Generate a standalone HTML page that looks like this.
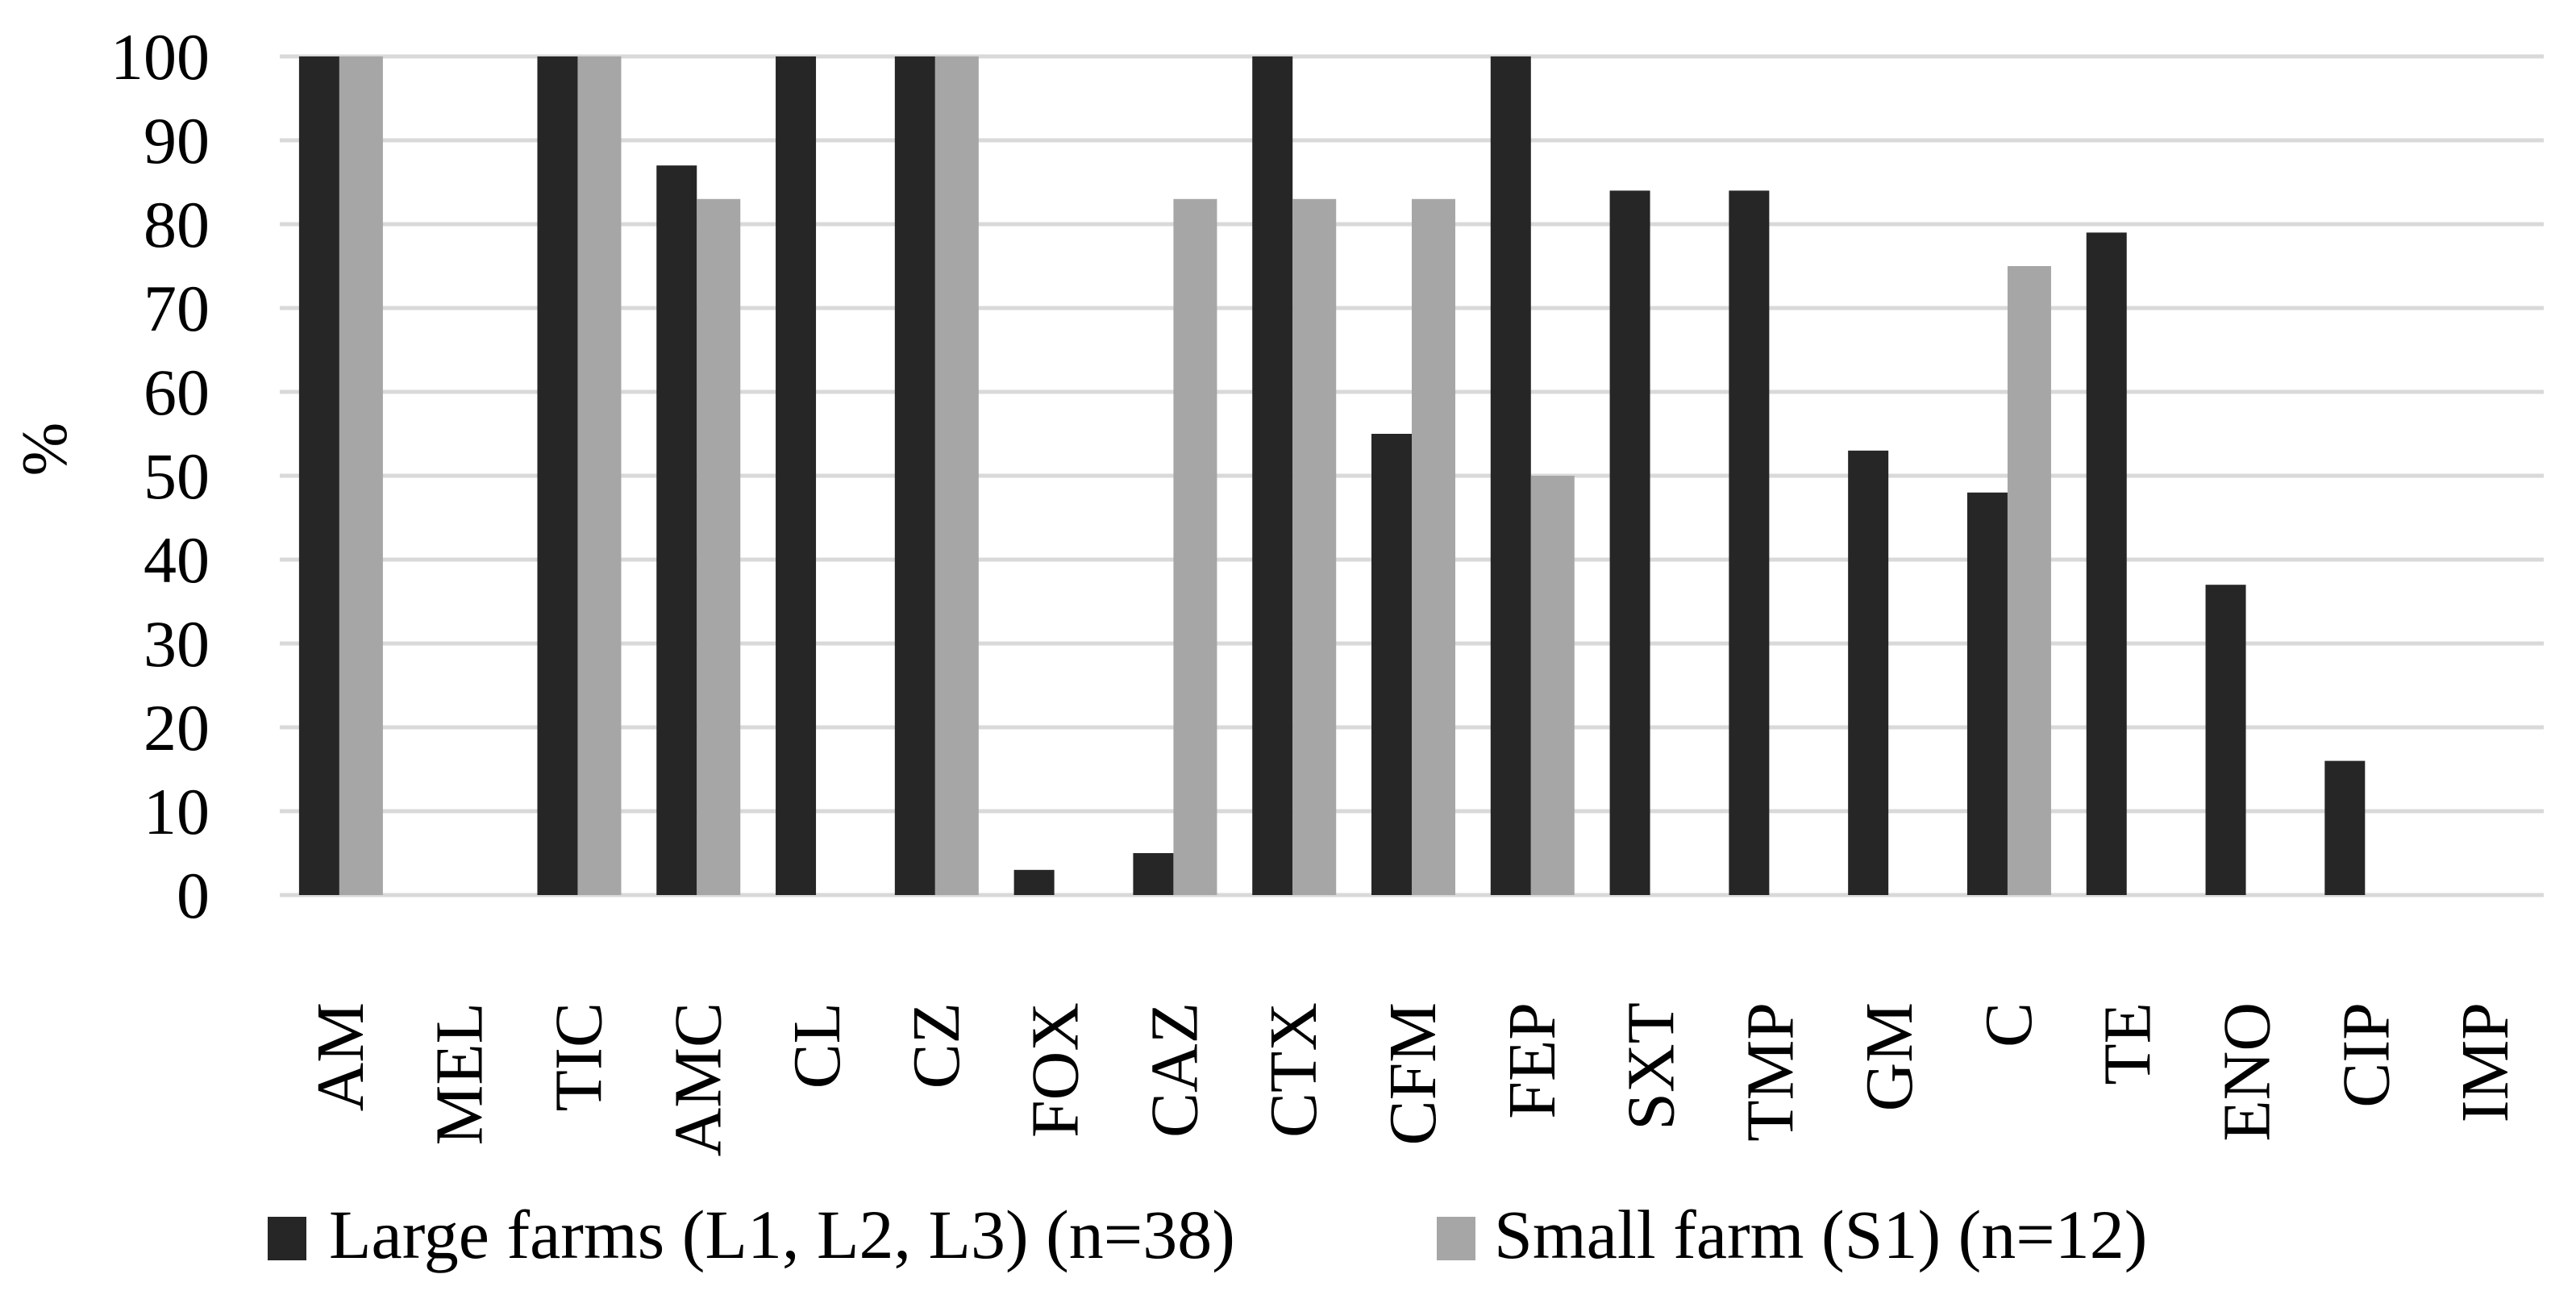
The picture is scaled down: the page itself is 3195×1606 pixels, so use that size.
<!DOCTYPE html>
<html><head><meta charset="utf-8"><style>
html,body{margin:0;padding:0;background:#fff;}
svg{display:block;font-family:"Liberation Serif",serif;}
</style></head><body>
<svg id="chart" width="3195" height="1606" viewBox="0 0 3195 1606" xmlns="http://www.w3.org/2000/svg">
<g id="grid"></g>
<g id="bars"></g>
<g id="yticks"></g>
<g id="xticks"></g>
<text x="0" y="0" font-size="80" text-anchor="middle" transform="translate(82,557) rotate(-90)">%</text>
<g>
  <rect x="332" y="1509" width="48" height="54" fill="#262626"/>
  <text x="408" y="1560" font-size="86">Large farms (L1, L2, L3) (n=38)</text>
  <rect x="1782" y="1509" width="48" height="54" fill="#a6a6a6"/>
  <text x="1853" y="1560" font-size="86">Small farm (S1) (n=12)</text>
</g>
</svg>
<script>
const categories = ["AM","MEL","TIC","AMC","CL","CZ","FOX","CAZ","CTX","CFM","FEP","SXT","TMP","GM","C","TE","ENO","CIP","IMP"];
const largeValues = [100,0,100,87,100,100,3,5,100,55,100,84,84,53,48,79,37,16,0];
const smallValues = [100,0,100,83,0,100,0,83,83,83,50,0,0,0,75,0,0,0,0];
const yTicks = [0,10,20,30,40,50,60,70,80,90,100];

const NS = "http://www.w3.org/2000/svg";
const plotLeft = 347, plotRight = 3155, plotTop = 70, plotBottom = 1110;
const bw = (plotRight - plotLeft) / categories.length;
const barW = 50;
function yScale(v){ return plotBottom - (v/100)*(plotBottom-plotTop); }
function xScale(i){ return plotLeft + i*bw; }
function mk(tag, attrs, parent){
  const e = document.createElementNS(NS, tag);
  for (const k in attrs) e.setAttribute(k, attrs[k]);
  parent.appendChild(e);
  return e;
}
const grid = document.getElementById('grid');
const yt = document.getElementById('yticks');
yTicks.forEach(t => {
  const l = mk('line', {x1:plotLeft, x2:plotRight, y1:yScale(t), y2:yScale(t), stroke:'#d9d9d9', 'stroke-width':5}, grid);
  
  
  const tx = mk('text', {x:260, y:yScale(t)+28, 'font-size':82, 'text-anchor':'end'}, yt);
  tx.textContent = t;
  
  
});
const bars = document.getElementById('bars');
const xt = document.getElementById('xticks');
categories.forEach((c, i) => {
  const cx = xScale(i) + bw/2;
  const vL = largeValues[i], vS = smallValues[i];
  const b1 = mk('rect', {x:cx-barW, y:yScale(vL), width:barW, height:plotBottom-yScale(vL), fill:'#262626'}, bars);
  
  
  const b2 = mk('rect', {x:cx, y:yScale(vS), width:barW+4, height:plotBottom-yScale(vS), fill:'#a6a6a6'}, bars);
  
  
  const t = mk('text', {x:0, y:0, 'font-size':84, 'text-anchor':'end', transform:'translate(' + (cx+29) + ',1243) rotate(-90)'}, xt);
  t.textContent = c;
  
  
});
</script>
</body></html>
